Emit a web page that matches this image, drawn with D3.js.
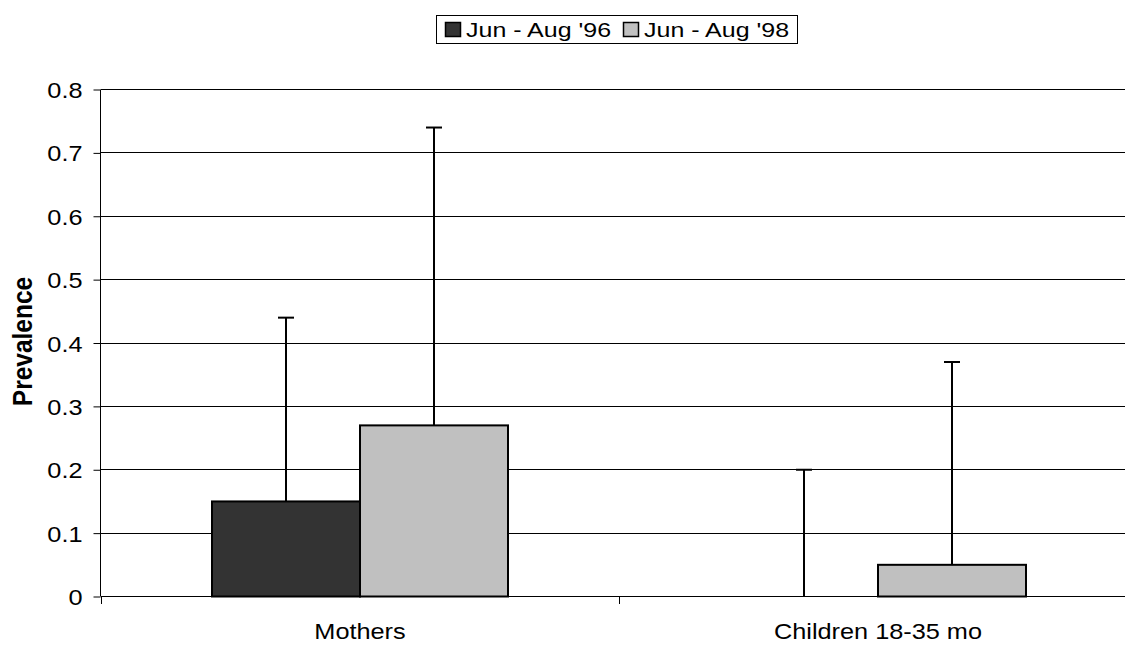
<!DOCTYPE html>
<html>
<head>
<meta charset="utf-8">
<script src="https://cdn.jsdelivr.net/npm/d3@7"></script>
<style>
  html, body { margin: 0; padding: 0; background: #fff; }
  svg { display: block; font-family: "Liberation Sans", Arial, sans-serif; }
</style>
</head>
<body>
<svg id="chart" width="1125" height="645"></svg>
<script>
// Prevalence by group, two survey periods, with upper error limits
const categories = ["Mothers", "Children 18-35 mo"];
const seriesNames = ["Jun - Aug '96", "Jun - Aug '98"];
const values96 = [0.15, 0.0];
const values98 = [0.27, 0.05];
const upper96 = [0.44, 0.20];
const upper98 = [0.74, 0.37];
const yTicks = [0, 0.1, 0.2, 0.3, 0.4, 0.5, 0.6, 0.7, 0.8];
const colors = ["#333333", "#c0c0c0"];

const series = [
  { name: seriesNames[0], values: values96, upper: upper96, color: colors[0] },
  { name: seriesNames[1], values: values98, upper: upper98, color: colors[1] }
];

const svg = d3.select("#chart");
const stretch = 1.15; // horizontal glyph stretch of the text

const y = d3.scaleLinear().domain([0, 0.8]).range([596.5, 89.5]);
const x0 = d3.scaleBand().domain(categories).range([101, 1137]).paddingInner(0).paddingOuter(0);
const x1 = d3.scaleBand().domain(seriesNames).range([0, x0.bandwidth()]).paddingInner(0).paddingOuter(0.75);

// horizontal gridlines
svg.append("g")
  .selectAll("line")
  .data(yTicks.filter(t => t > 0))
  .join("line")
  .attr("x1", 101).attr("x2", 1125)
  .attr("y1", d => y(d)).attr("y2", d => y(d))
  .attr("stroke", "#000").attr("stroke-width", 1)
  .attr("shape-rendering", "crispEdges");

// y axis
const yAxis = svg.append("g")
  .attr("transform", "translate(100.5,0)")
  .call(d3.axisLeft(y).tickValues(yTicks).tickFormat(d => d === 0 ? "0" : d3.format(".1f")(d)).tickSize(7).tickPadding(0));
yAxis.select(".domain").attr("stroke", "#000").attr("stroke-width", 1).attr("d", `M0,${y(0.8)}V${y(0)}`);
yAxis.selectAll(".tick line").attr("stroke", "#000");
yAxis.selectAll(".tick text")
  .attr("x", null).attr("dy", null)
  .attr("fill", "#000")
  .style("font-size", "22px")
  .attr("text-anchor", "end")
  .attr("transform", `translate(-18,8) scale(${stretch},1)`);

// bars
const groups = svg.append("g")
  .selectAll("g")
  .data(series)
  .join("g");

groups.selectAll("rect")
  .data(s => categories.map((c, i) => ({ c, v: s.values[i], s })))
  .join("rect")
  .attr("x", d => x0(d.c) + x1(d.s.name))
  .attr("width", x1.bandwidth())
  .attr("y", d => y(d.v))
  .attr("height", d => y(0) - y(d.v))
  .attr("fill", d => d.s.color)
  .attr("stroke", "#000")
  .attr("stroke-width", 2)
  .style("display", d => d.v > 0 ? null : "none");

// error bars (upper limit only)
const errs = svg.append("g")
  .selectAll("g")
  .data(series.flatMap(s => categories.map((c, i) => ({ c, v: s.values[i], u: s.upper[i], s }))))
  .join("g")
  .attr("transform", d => `translate(${x0(d.c) + x1(d.s.name) + x1.bandwidth() / 2},0)`);
errs.append("line")
  .attr("x1", 0).attr("x2", 0)
  .attr("y1", d => y(d.v)).attr("y2", d => y(d.u))
  .attr("stroke", "#000").attr("stroke-width", 2);
errs.append("line")
  .attr("x1", -8).attr("x2", 8)
  .attr("y1", d => y(d.u)).attr("y2", d => y(d.u))
  .attr("stroke", "#000").attr("stroke-width", 2);

// x axis
const xAxis = svg.append("g")
  .attr("transform", `translate(0,${y(0)})`)
  .call(d3.axisBottom(x0).tickSize(0).tickPadding(0));
xAxis.select(".domain").attr("stroke", "#000").attr("d", "M101,0H1125");
xAxis.selectAll(".tick text")
  .attr("y", null).attr("dy", null)
  .attr("fill", "#000")
  .style("font-size", "22px")
  .attr("transform", `translate(0,42) scale(${stretch},1)`);
// category boundary ticks
svg.append("g")
  .selectAll("line")
  .data(categories.concat(["end"]))
  .join("line")
  .attr("x1", (d, i) => i < categories.length ? x0(d) : x0.range()[1])
  .attr("x2", (d, i) => i < categories.length ? x0(d) : x0.range()[1])
  .attr("y1", y(0)).attr("y2", y(0) + 7)
  .attr("stroke", "#000").attr("shape-rendering", "crispEdges");

// y axis title
svg.append("text")
  .attr("transform", `translate(31.5,341.5) scale(1.12,1) rotate(-90)`)
  .attr("text-anchor", "middle")
  .style("font-size", "24.5px")
  .style("font-weight", "bold")
  .text("Prevalence");

// legend
const legend = svg.append("g");
legend.append("rect")
  .attr("x", 436.5).attr("y", 15.5).attr("width", 361).attr("height", 28)
  .attr("fill", "#fff").attr("stroke", "#000");
const legendX = [445, 623];
const items = legend.selectAll("g.item")
  .data(series)
  .join("g")
  .attr("class", "item")
  .attr("transform", (d, i) => `translate(${legendX[i]},0)`);
items.append("rect")
  .attr("x", 0.5).attr("y", 22.5).attr("width", 15).attr("height", 14)
  .attr("fill", d => d.color).attr("stroke", "#000").attr("stroke-width", 1.5);
items.append("text")
  .attr("transform", `translate(21,37) scale(1.19,1)`)
  .style("font-size", "21px")
  .text(d => d.name);
</script>
</body>
</html>
